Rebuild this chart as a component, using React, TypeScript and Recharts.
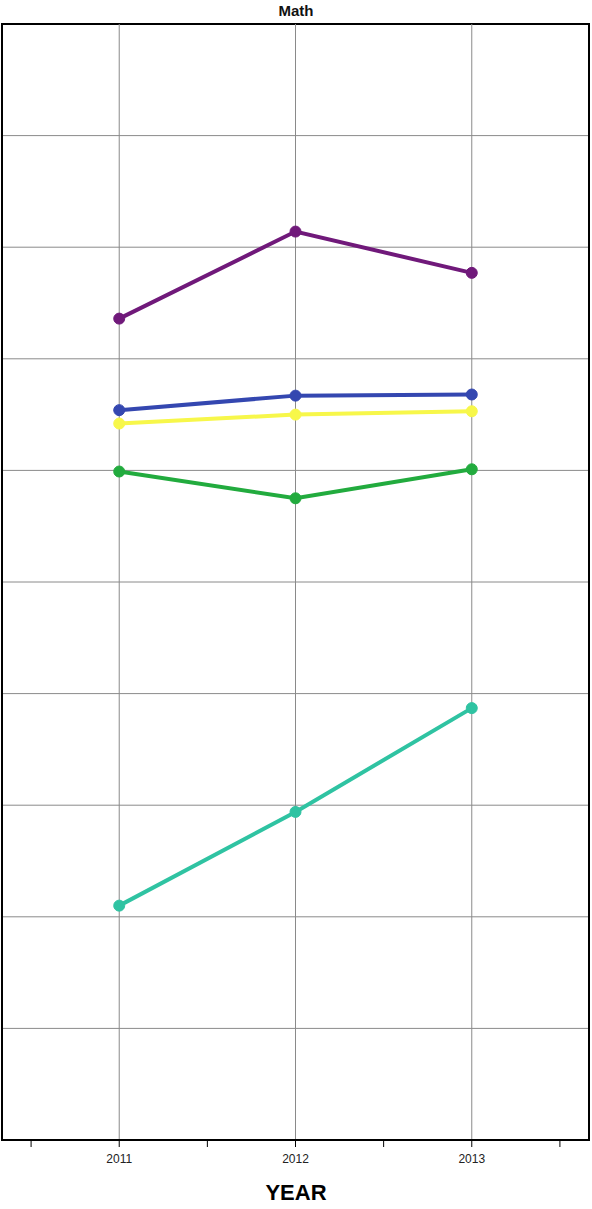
import { LineChart, Line, XAxis, YAxis, CartesianGrid, ReferenceLine, ReferenceArea } from 'recharts';

const years = [2011, 2012, 2013];
const xTicks = [2010.5, 2011, 2011.5, 2012, 2012.5, 2013, 2013.5];
const yTicks = [0, 10, 20, 30, 40, 50, 60, 70, 80, 90, 100];

const purple = [73.6, 81.4, 77.7];
const blue = [65.4, 66.7, 66.8];
const yellow = [64.2, 65.0, 65.3];
const green = [59.9, 57.5, 60.1];
const teal = [21.0, 29.4, 38.7];

const series = [
  { key: 'purple', values: purple, color: '#70197a' },
  { key: 'blue', values: blue, color: '#3447b0' },
  { key: 'yellow', values: yellow, color: '#f7f74a' },
  { key: 'green', values: green, color: '#22ab3e' },
  { key: 'teal', values: teal, color: '#2fc3a2' },
];

const data = years.map((year, i) => {
  const row: Record<string, number> = { year };
  series.forEach((s) => {
    row[s.key] = s.values[i];
  });
  return row;
});

const font = 'Arial, "Liberation Sans", sans-serif';

export default function App() {
  return (
    <div style={{ position: 'absolute', left: 0, top: 0, width: 592, height: 1209, background: '#fff', fontFamily: font }}>
      <div style={{ position: 'absolute', left: 0, width: 592, top: 2, textAlign: 'center', fontSize: 15, fontWeight: 'bold', color: '#111' }}>
        Math
      </div>
      <LineChart width={592} height={1209} data={data} margin={{ top: 24, right: 3, bottom: 0, left: 2 }}>
        <CartesianGrid vertical={false} stroke="#8a8a8a" strokeWidth={1} />
        <XAxis
          dataKey="year"
          type="number"
          domain={[2010.335, 2013.665]}
          ticks={xTicks}
          allowDataOverflow
          height={69}
          tickSize={7}
          tickMargin={7}
          axisLine={{ stroke: '#000', strokeWidth: 2 }}
          tickLine={{ stroke: '#000', strokeWidth: 1 }}
          tick={{ fontSize: 12, fill: '#222', fontFamily: font }}
          tickFormatter={(v: number) => (Number.isInteger(v) ? String(v) : '')}
        />
        <YAxis hide domain={[0, 100]} ticks={yTicks} />
        {years.map((y) => (
          <ReferenceLine key={y} x={y} stroke="#8a8a8a" strokeWidth={1} />
        ))}
        <ReferenceArea x1={2010.335} x2={2013.665} y1={0} y2={100} fill="none" stroke="#000" strokeWidth={2} />
        {series.map((s) => (
          <Line
            key={s.key}
            dataKey={s.key}
            stroke={s.color}
            strokeWidth={4}
            dot={{ r: 5.5, fill: s.color, stroke: s.color, strokeWidth: 1 }}
            isAnimationActive={false}
          />
        ))}
      </LineChart>
      <div style={{ position: 'absolute', left: 0, width: 592, top: 1180, textAlign: 'center', fontSize: 22, fontWeight: 'bold', color: '#000' }}>
        YEAR
      </div>
    </div>
  );
}
